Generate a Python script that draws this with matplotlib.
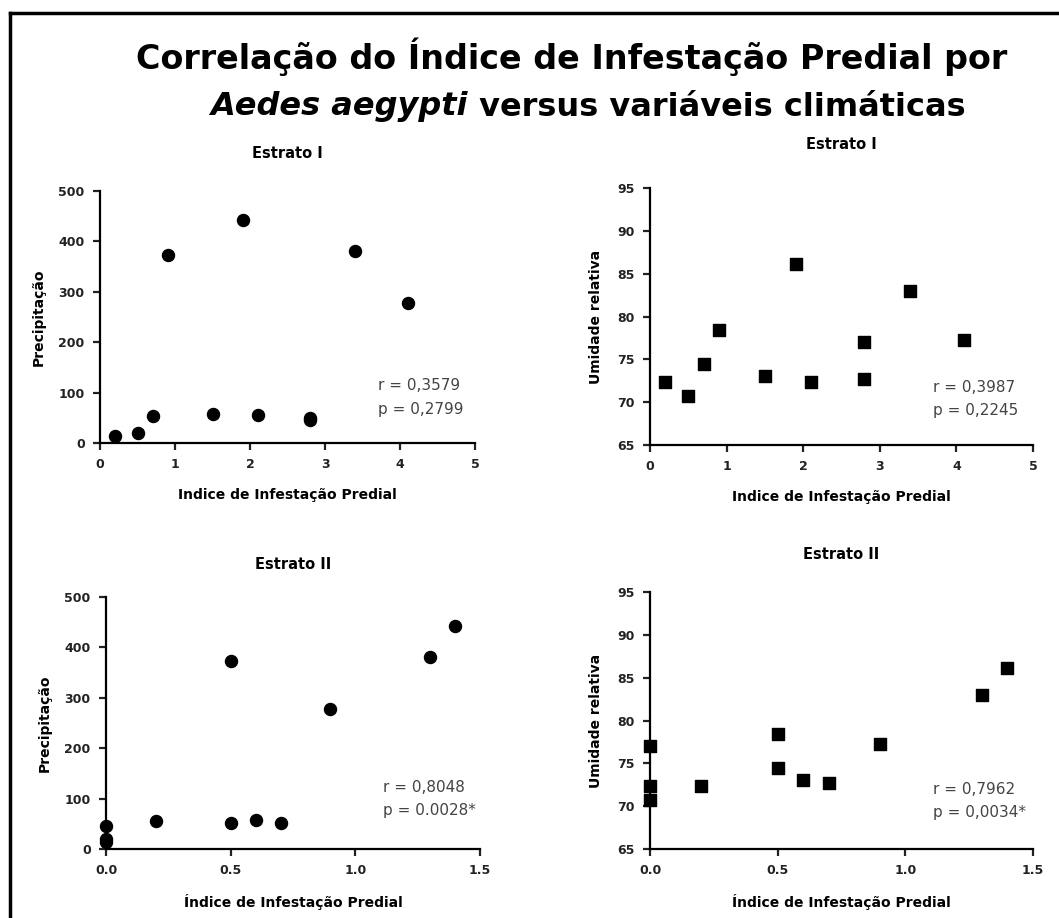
import numpy as np
import matplotlib
matplotlib.use('Agg')
import matplotlib.pyplot as plt
from matplotlib.lines import Line2D

plt.rcParams['font.family'] = ['DejaVu Sans']

# Estrato I
iip_e1 = [0.2, 0.5, 0.7, 0.9, 1.5, 1.9, 2.1, 2.8, 2.8, 3.4, 4.1]
prec_e1 = [13, 20, 53, 374, 58, 442, 55, 50, 46, 381, 277]
iip_e1_u = [0.2, 0.5, 0.7, 0.9, 1.5, 1.9, 2.1, 2.8, 2.8, 3.4, 4.1]
umid_e1 = [72.4, 70.7, 74.4, 78.4, 73.0, 86.1, 72.3, 77.0, 72.7, 83.0, 77.2]

# Estrato II
iip_e2 = [0.0, 0.0, 0.0, 0.2, 0.5, 0.5, 0.6, 0.7, 0.9, 1.3, 1.4]
prec_e2 = [46, 20, 13, 55, 374, 52, 57, 52, 277, 381, 442]
iip_e2_u = [0.0, 0.0, 0.0, 0.2, 0.5, 0.5, 0.6, 0.7, 0.9, 1.3, 1.4]
umid_e2 = [77.0, 72.4, 70.7, 72.3, 78.4, 74.4, 73.0, 72.7, 77.2, 83.0, 86.1]

stats = {
    'tl': ('r = 0,3579', 'p = 0,2799'),
    'tr': ('r = 0,3987', 'p = 0,2245'),
    'bl': ('r = 0,8048', 'p = 0.0028*'),
    'br': ('r = 0,7962', 'p = 0,0034*'),
}

W, H = 1059, 918
fig = plt.figure(figsize=(W / 100, H / 100), dpi=100)


def add_ax(x0, x1, ytop, ybot):
    return fig.add_axes([x0 / W, 1 - ybot / H, (x1 - x0) / W, (ybot - ytop) / H])


def style(ax, xlim, xticks, xtlabels, ylim, yticks):
    ax.set_xlim(*xlim)
    ax.set_ylim(*ylim)
    ax.set_xticks(xticks)
    ax.set_xticklabels(xtlabels)
    ax.set_yticks(yticks)
    for s in ['top', 'right']:
        ax.spines[s].set_visible(False)
    for s in ['left', 'bottom']:
        ax.spines[s].set_linewidth(1.6)
    ax.tick_params(width=1.6, length=5, labelsize=9, pad=6, colors='#222222')
    for lbl in ax.get_xticklabels() + ax.get_yticklabels():
        lbl.set_fontweight('bold')


# top-left
ax1 = add_ax(100, 475, 191, 443)
ax1.scatter(iip_e1, prec_e1, s=75, c='black', marker='o', clip_on=False, zorder=3)
style(ax1, (0, 5), range(6), [str(i) for i in range(6)], (0, 500), range(0, 501, 100))
ax1.set_ylabel('Precipitação', fontsize=10, fontweight='bold', labelpad=9)
ax1.set_xlabel('Indice de Infestação Predial', fontsize=10, fontweight='bold', labelpad=12)
ax1.set_title('Estrato I', fontsize=10.5, fontweight='bold', pad=24)

# top-right
ax2 = add_ax(650, 1033, 188, 445)
ax2.scatter(iip_e1_u, umid_e1, s=68, c='black', marker='s', clip_on=False, zorder=3)
style(ax2, (0, 5), range(6), [str(i) for i in range(6)], (65, 95), range(65, 96, 5))
ax2.set_ylabel('Umidade relativa', fontsize=10, fontweight='bold', labelpad=10)
ax2.set_xlabel('Indice de Infestação Predial', fontsize=10, fontweight='bold', labelpad=12)
ax2.set_title('Estrato I', fontsize=10.5, fontweight='bold', pad=28)

# bottom-left
ax3 = add_ax(106, 480, 597, 849)
ax3.scatter(iip_e2, prec_e2, s=75, c='black', marker='o', clip_on=False, zorder=3)
style(ax3, (0, 1.5), [0, 0.5, 1.0, 1.5], ['0.0', '0.5', '1.0', '1.5'], (0, 500), range(0, 501, 100))
ax3.set_ylabel('Precipitação', fontsize=10, fontweight='bold', labelpad=9)
ax3.set_xlabel('Índice de Infestação Predial', fontsize=10, fontweight='bold', labelpad=12)
ax3.set_title('Estrato II', fontsize=10.5, fontweight='bold', pad=20)

# bottom-right
ax4 = add_ax(650, 1033, 592, 849)
ax4.scatter(iip_e2_u, umid_e2, s=68, c='black', marker='s', clip_on=False, zorder=3)
style(ax4, (0, 1.5), [0, 0.5, 1.0, 1.5], ['0.0', '0.5', '1.0', '1.5'], (65, 95), range(65, 96, 5))
ax4.set_ylabel('Umidade relativa', fontsize=10, fontweight='bold', labelpad=10)
ax4.set_xlabel('Índice de Infestação Predial', fontsize=10, fontweight='bold', labelpad=12)
ax4.set_title('Estrato II', fontsize=10.5, fontweight='bold', pad=24)

# r / p annotations (figure pixel positions)
for ax, key, x, y in [(ax1, 'tl', 378, 386), (ax2, 'tr', 933, 387),
                      (ax3, 'bl', 383, 788), (ax4, 'br', 933, 790)]:
    r_txt, p_txt = stats[key]
    fig.text(x / W, 1 - y / H, r_txt, fontsize=11, color='#444444', va='center', ha='left')
    fig.text(x / W, 1 - (y + 23) / H, p_txt, fontsize=11, color='#444444', va='center', ha='left')

# main title
fig.text(572 / W, 1 - 57 / H, 'Correlação do Índice de Infestação Predial por',
         fontsize=24, ha='center', va='center', fontweight='bold')

# second title line: italic species name + remainder, centred together
renderer = fig.canvas.get_renderer()
t_it = fig.text(0, 1 - 107 / H, 'Aedes aegypti', fontsize=23, style='italic',
                fontweight='bold', ha='left', va='center')
t_rest = fig.text(0, 1 - 107 / H, ' versus variáveis climáticas', fontsize=23,
                  fontweight='bold', ha='left', va='center')
w_it = t_it.get_window_extent(renderer).width
w_rest = t_rest.get_window_extent(renderer).width
x_start = 588 - (w_it + w_rest) / 2
t_it.set_x(x_start / W)
t_rest.set_x((x_start + w_it) / W)

# frame (top and left edges visible)
fig.add_artist(Line2D([10 / W, 1], [1 - 13 / H, 1 - 13 / H], color='black', lw=2.5,
                      transform=fig.transFigure))
fig.add_artist(Line2D([10 / W, 10 / W], [0, 1 - 13 / H], color='black', lw=2.5,
                      transform=fig.transFigure))

fig.savefig('out.png', dpi=100, facecolor='white')
